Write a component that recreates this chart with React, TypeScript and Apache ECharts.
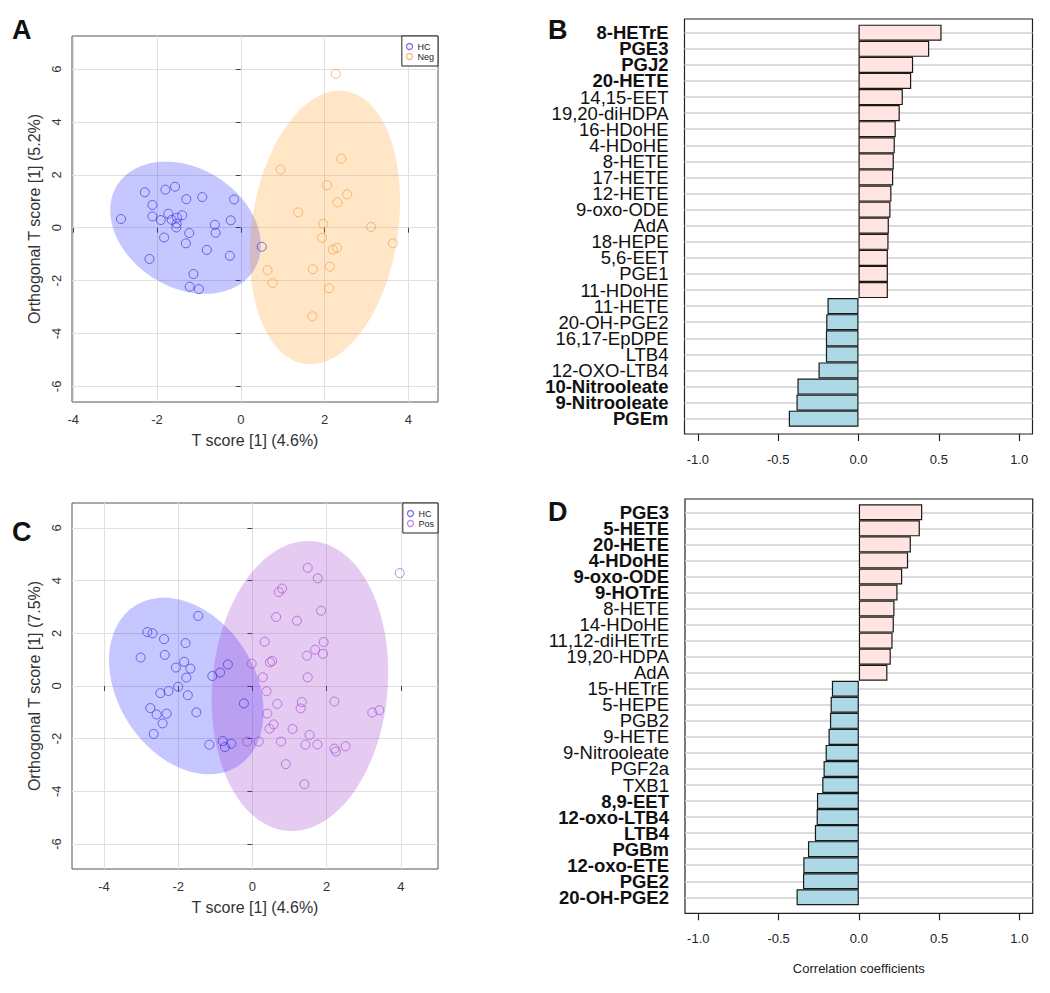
import React, { useEffect, useRef } from "react";
import * as echarts from "echarts";

const FONT = "'Liberation Sans', Arial, Helvetica, sans-serif";

// ---------- Panel A : HC vs Neg (OPLS-DA scores) ----------
const hcA: number[][] = [
  [-2.86, 0.33], [-2.29, 1.34], [-1.8, 1.44], [-1.57, 1.55], [-2.11, 0.86], [-2.11, 0.43],
  [-1.91, 0.29], [-1.73, 0.53], [-1.65, 0.3], [-1.52, 0.38], [-1.4, 0.47], [-1.53, 0.16],
  [-1.54, 0.01], [-1.3, 1.08], [-0.92, 1.16], [-0.16, 1.07], [-0.62, 0.11], [-0.6, -0.19],
  [-0.24, 0.28], [-1.23, -0.2], [-1.83, -0.37], [-1.31, -0.59], [-0.81, -0.84], [-0.26, -1.06],
  [-2.18, -1.18], [-1.13, -1.75], [-1.22, -2.23], [-1.0, -2.32], [0.5, -0.72],
];
const negA: number[][] = [
  [2.27, 5.82], [2.4, 2.61], [0.95, 2.2], [2.06, 1.61], [2.54, 1.26], [2.31, 0.96],
  [1.37, 0.58], [1.97, 0.15], [3.11, 0.03], [1.94, -0.38], [3.63, -0.59], [2.3, -0.76],
  [2.2, -0.83], [0.64, -1.6], [1.72, -1.57], [2.13, -1.47], [0.76, -2.09], [2.11, -2.29],
  [1.71, -3.35],
];
// ellipse: [centerX, centerY, axis1X, axis1Y, axis2X, axis2Y]
const ellipseHcA = [-1.32, 0.0, 1.633, -1.604, 0.75, 1.917];
const ellipseNegA = [2.01, 0.01, 0.488, 5.155, 1.726, -0.411];

// ---------- Panel C : HC vs Pos ----------
const hcC: number[][] = [
  [-1.46, 2.66], [-2.83, 2.05], [-2.69, 2.0], [-2.38, 1.78], [-1.8, 1.63], [-3.01, 1.08],
  [-2.36, 1.18], [-1.84, 0.92], [-2.06, 0.7], [-1.67, 0.66], [-1.78, 0.32], [-2.0, -0.03],
  [-2.26, -0.19], [-2.48, -0.27], [-1.74, -0.35], [-2.75, -0.84], [-2.58, -1.08], [-2.31, -1.05],
  [-2.42, -1.42], [-2.66, -1.82], [-1.51, -1.0], [-1.08, 0.38], [-0.87, 0.51], [-0.66, 0.82],
  [-0.23, -0.66], [-1.16, -2.23], [-0.8, -2.09], [-0.74, -2.32], [-0.57, -2.19],
];
const posC: number[][] = [
  [1.49, 4.49], [1.76, 4.09], [0.71, 3.57], [0.8, 3.7], [1.85, 2.86], [0.64, 2.62],
  [1.2, 2.48], [3.97, 4.29], [0.33, 1.68], [1.92, 1.67], [1.69, 1.38], [1.47, 1.15],
  [1.9, 1.22], [-0.02, 0.85], [0.47, 0.9], [0.53, 0.95], [0.28, 0.33], [1.49, 0.33],
  [0.38, -0.2], [0.67, -0.68], [1.33, -0.61], [1.3, -0.85], [2.21, -0.59], [0.4, -1.05],
  [3.23, -1.01], [3.42, -0.92], [0.57, -1.46], [0.46, -1.62], [1.08, -1.63], [1.54, -1.86],
  [0.17, -2.11], [0.77, -2.11], [1.43, -2.23], [1.75, -2.22], [2.21, -2.38], [2.25, -2.49],
  [2.51, -2.29], [0.9, -2.97], [1.4, -3.73], [-0.14, -2.11],
];
const ellipseHcC = [-1.78, 0.0, -1.383, 3.046, 1.556, 1.401];
const ellipsePosC = [1.28, 0.0, 0.352, 5.5, 2.352, -0.299];

const scatterXTicks = [-4, -2, 0, 2, 4];
const scatterYTicks = [-6, -4, -2, 0, 2, 4, 6];

// ---------- Panel B : correlation coefficients ----------
const catsB = [
  "8-HETrE", "PGE3", "PGJ2", "20-HETE", "14,15-EET", "19,20-diHDPA", "16-HDoHE", "4-HDoHE",
  "8-HETE", "17-HETE", "12-HETE", "9-oxo-ODE", "AdA", "18-HEPE", "5,6-EET", "PGE1", "11-HDoHE",
  "11-HETE", "20-OH-PGE2", "16,17-EpDPE", "LTB4", "12-OXO-LTB4", "10-Nitrooleate", "9-Nitrooleate", "PGEm",
];
const valsB = [
  0.517, 0.44, 0.34, 0.328, 0.276, 0.257, 0.232, 0.226, 0.22, 0.216, 0.205, 0.199, 0.189,
  0.187, 0.183, 0.183, 0.183, -0.193, -0.201, -0.203, -0.203, -0.249, -0.38, -0.386, -0.434,
];
const boldB = ["8-HETrE", "PGE3", "PGJ2", "20-HETE", "10-Nitrooleate", "9-Nitrooleate", "PGEm"];

// ---------- Panel D ----------
const catsD = [
  "PGE3", "5-HETE", "20-HETE", "4-HDoHE", "9-oxo-ODE", "9-HOTrE", "8-HETE", "14-HDoHE",
  "11,12-diHETrE", "19,20-HDPA", "AdA", "15-HETrE", "5-HEPE", "PGB2", "9-HETE", "9-Nitrooleate",
  "PGF2a", "TXB1", "8,9-EET", "12-oxo-LTB4", "LTB4", "PGBm", "12-oxo-ETE", "PGE2", "20-OH-PGE2",
];
const valsD = [
  0.395, 0.38, 0.324, 0.307, 0.27, 0.241, 0.222, 0.218, 0.21, 0.199, 0.178, -0.168, -0.176,
  -0.18, -0.189, -0.207, -0.22, -0.228, -0.261, -0.263, -0.274, -0.317, -0.346, -0.348, -0.388,
];
const boldD = [
  "PGE3", "5-HETE", "20-HETE", "4-HDoHE", "9-oxo-ODE", "9-HOTrE", "8,9-EET", "12-oxo-LTB4",
  "LTB4", "PGBm", "12-oxo-ETE", "PGE2", "20-OH-PGE2",
];
const barTicks = [-1, -0.5, 0, 0.5, 1];

const COL = {
  hcFill: "rgba(20,20,255,0.24)",
  negFill: "rgba(255,140,0,0.22)",
  posFill: "rgba(153,50,204,0.26)",
  hcPt: "rgba(40,40,220,0.8)",
  negPt: "rgba(245,150,50,0.8)",
  posPt: "rgba(160,60,210,0.75)",
  pos: "#FFE4E1",
  neg: "#ADD8E6",
};

function ellipseRender(fill: string) {
  return (params: any, api: any) => {
    const cx = api.value(0), cy = api.value(1);
    const mx = api.value(2), my = api.value(3), nx = api.value(4), ny = api.value(5);
    const pts: number[][] = [];
    for (let i = 0; i < 180; i++) {
      const t = (i / 180) * Math.PI * 2;
      pts.push(api.coord([cx + mx * Math.cos(t) + nx * Math.sin(t), cy + my * Math.cos(t) + ny * Math.sin(t)]));
    }
    return { type: "polygon", shape: { points: pts }, style: { fill, stroke: "none" } };
  };
}

function scatterXAxis(gridIndex: number, min: number, max: number, name: string) {
  return {
    type: "value", gridIndex, min, max, name, nameLocation: "middle", nameGap: 30,
    nameTextStyle: { fontSize: 16, color: "#333", fontFamily: FONT },
    axisLine: { show: false },
    axisTick: { show: true, length: 5, customValues: scatterXTicks, lineStyle: { color: "#444" } },
    axisLabel: { customValues: scatterXTicks, fontSize: 13, color: "#333", margin: 11, fontFamily: FONT },
    splitLine: { show: true, lineStyle: { color: "#E0E0E0", width: 1 } },
  };
}
function scatterYAxis(gridIndex: number, min: number, max: number, name: string) {
  return {
    type: "value", gridIndex, min, max, name, nameLocation: "middle", nameGap: 30, nameRotate: 90,
    nameTextStyle: { fontSize: 16, color: "#333", fontFamily: FONT },
    axisLine: { show: false },
    axisTick: { show: true, length: 5, customValues: scatterYTicks, lineStyle: { color: "#444" } },
    axisLabel: { customValues: scatterYTicks, rotate: 90, fontSize: 13, color: "#333", margin: 9, fontFamily: FONT },
    splitLine: { show: true, lineStyle: { color: "#E0E0E0", width: 1 } },
  };
}
function barCatAxis(gridIndex: number, cats: string[], bold: string[]) {
  return {
    type: "category", gridIndex, inverse: true, boundaryGap: false,
    data: cats.map((c) => ({ value: c, textStyle: { fontWeight: bold.includes(c) ? "bold" : "normal" } })),
    axisLine: { show: false }, axisTick: { show: false },
    axisLabel: { interval: 0, fontSize: 18.5, color: "#111", margin: 16, fontFamily: FONT, lineHeight: 16 },
    splitLine: { show: true, interval: 0, lineStyle: { color: "#CFCFCF", width: 1.5 } },
  };
}
function barValAxis(gridIndex: number, offset: number, name: string) {
  return {
    type: "value", gridIndex, min: -1.083, max: 1.083, offset,
    name, nameLocation: "middle", nameGap: 49,
    nameTextStyle: { fontSize: 13, color: "#222", fontFamily: FONT },
    axisLine: { show: false },
    axisTick: { show: true, length: 7, customValues: barTicks, lineStyle: { color: "#222", width: 1.2 } },
    axisLabel: { customValues: barTicks, fontSize: 13, color: "#222", margin: 19, fontFamily: FONT,
      formatter: (v: number) => v.toFixed(1) },
    splitLine: { show: false },
  };
}
const hiddenAxis = (gridIndex: number) => ({ type: "value", gridIndex, show: false, min: 0, max: 1, splitLine: { show: false } });

function barSeries(idx: number, vals: number[]) {
  return {
    type: "bar", xAxisIndex: idx, yAxisIndex: idx, barWidth: "100%", clip: false,
    data: vals.map((v) => ({ value: v, itemStyle: { color: v >= 0 ? COL.pos : COL.neg } })),
    itemStyle: { borderColor: "#1a1a1a", borderWidth: 1.2 },
    z: 3,
  };
}
function legendFor(top: number, items: { name: string; color: string }[]) {
  return {
    right: 1050 - 438, top, orient: "vertical", padding: [6, 4, 5, 4], itemGap: 1,
    itemWidth: 6, itemHeight: 6, borderColor: "#222", borderWidth: 1, borderRadius: 0,
    backgroundColor: "#fff",
    textStyle: { fontSize: 9, color: "#222", fontFamily: FONT, lineHeight: 9 },
    formatter: (n: string) => n.split("-")[0],
    data: items.map((it) => ({ name: it.name, icon: "circle", itemStyle: { color: "transparent", borderColor: it.color, borderWidth: 1.3 } })),
  };
}

export default function App() {
  const ref = useRef<HTMLDivElement>(null);
  useEffect(() => {
    if (!ref.current) return;
    const chart = echarts.init(ref.current, undefined, { renderer: "svg" });
    const pointStyle = (c: string) => ({ color: "transparent", borderColor: c, borderWidth: 1 });
    const option: any = {
      animation: false,
      backgroundColor: "#fff",
      textStyle: { fontFamily: FONT },
      grid: [
        { left: 72, top: 36, width: 366, height: 366, show: true, borderColor: "#555", borderWidth: 1, backgroundColor: "transparent" },
        { left: 72, top: 503, width: 366, height: 366, show: true, borderColor: "#555", borderWidth: 1, backgroundColor: "transparent" },
        { left: 684.5, top: 19, width: 348, height: 415, show: true, borderColor: "#222", borderWidth: 1.2, backgroundColor: "transparent" },
        { left: 684.5, top: 32.7, width: 348, height: 386 },
        { left: 685, top: 499, width: 347.7, height: 414.3, show: true, borderColor: "#222", borderWidth: 1.2, backgroundColor: "transparent" },
        { left: 685, top: 512.3, width: 347.7, height: 385 },
      ],
      xAxis: [
        scatterXAxis(0, -4.03, 4.71, "T score [1] (4.6%)"),
        scatterXAxis(1, -4.86, 5.0, "T score [1] (4.6%)"),
        hiddenAxis(2),
        barValAxis(3, 15.3, ""),
        hiddenAxis(4),
        barValAxis(5, 16, "Correlation coefficients"),
      ],
      yAxis: [
        scatterYAxis(0, -6.59, 7.25, "Orthogonal T score [1] (5.2%)"),
        scatterYAxis(1, -6.95, 6.95, "Orthogonal T score [1] (7.5%)"),
        hiddenAxis(2),
        barCatAxis(3, catsB, boldB),
        hiddenAxis(4),
        barCatAxis(5, catsD, boldD),
      ],
      legend: [
        legendFor(36, [{ name: "HC-A", color: COL.hcPt }, { name: "Neg", color: COL.negPt }]),
        legendFor(503, [{ name: "HC-C", color: COL.hcPt }, { name: "Pos", color: COL.posPt }]),
      ],
      series: [
        { type: "custom", name: "ellHcA", xAxisIndex: 0, yAxisIndex: 0, renderItem: ellipseRender(COL.hcFill), data: [ellipseHcA], z: 1, silent: true },
        { type: "custom", name: "ellNegA", xAxisIndex: 0, yAxisIndex: 0, renderItem: ellipseRender(COL.negFill), data: [ellipseNegA], z: 1, silent: true },
        { type: "scatter", name: "HC-A", xAxisIndex: 0, yAxisIndex: 0, data: hcA, symbol: "circle", symbolSize: 9, itemStyle: pointStyle(COL.hcPt), z: 3 },
        { type: "scatter", name: "Neg", xAxisIndex: 0, yAxisIndex: 0, data: negA, symbol: "circle", symbolSize: 9, itemStyle: pointStyle(COL.negPt), z: 3 },
        { type: "custom", name: "ellHcC", xAxisIndex: 1, yAxisIndex: 1, renderItem: ellipseRender(COL.hcFill), data: [ellipseHcC], z: 1, silent: true },
        { type: "custom", name: "ellPosC", xAxisIndex: 1, yAxisIndex: 1, renderItem: ellipseRender(COL.posFill), data: [ellipsePosC], z: 1, silent: true },
        { type: "scatter", name: "HC-C", xAxisIndex: 1, yAxisIndex: 1, data: hcC, symbol: "circle", symbolSize: 9, itemStyle: pointStyle(COL.hcPt), z: 3 },
        { type: "scatter", name: "Pos", xAxisIndex: 1, yAxisIndex: 1, data: posC, symbol: "circle", symbolSize: 9, itemStyle: pointStyle(COL.posPt), z: 3 },
        barSeries(3, valsB),
        barSeries(5, valsD),
      ],
      graphic: [
        { type: "text", left: 12, top: 16, style: { text: "A", fontSize: 27, fontWeight: "bold", fill: "#111", fontFamily: FONT } },
        { type: "text", left: 548, top: 16, style: { text: "B", fontSize: 27, fontWeight: "bold", fill: "#111", fontFamily: FONT } },
        { type: "text", left: 12, top: 518, style: { text: "C", fontSize: 27, fontWeight: "bold", fill: "#111", fontFamily: FONT } },
        { type: "text", left: 548, top: 498, style: { text: "D", fontSize: 27, fontWeight: "bold", fill: "#111", fontFamily: FONT } },
      ],
    };
    chart.setOption(option);
    return () => chart.dispose();
  }, []);
  return <div ref={ref} style={{ position: "absolute", left: 0, top: 0, width: 1050, height: 993 }} />;
}
